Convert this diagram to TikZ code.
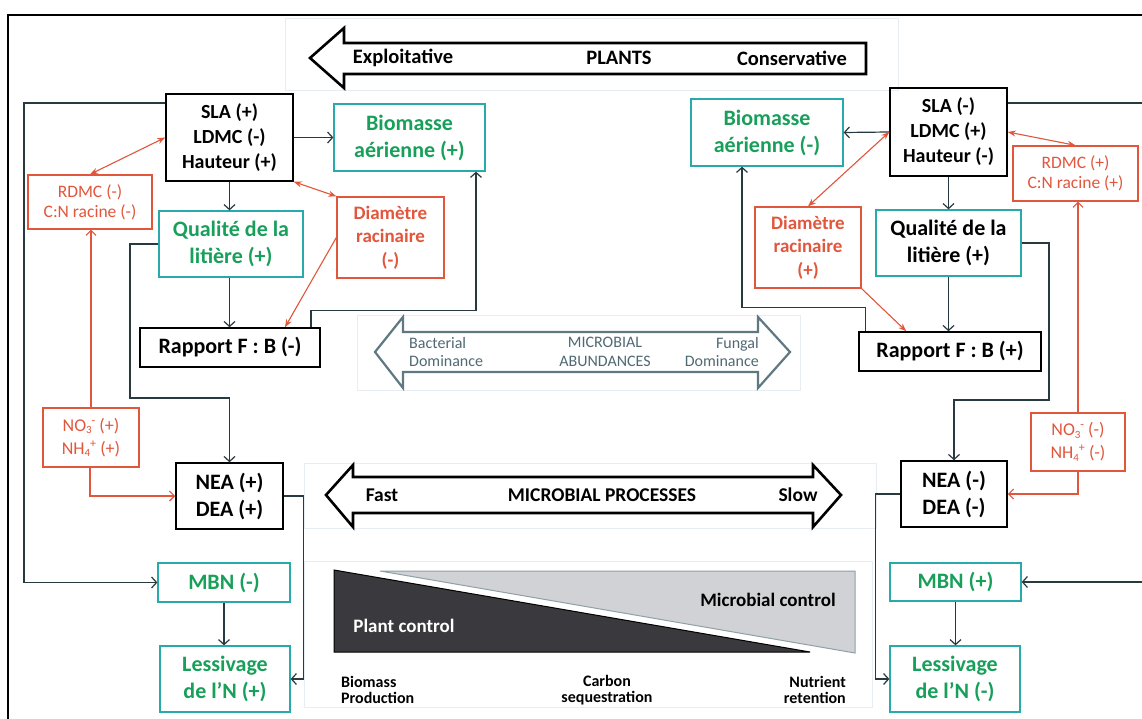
\documentclass[tikz,border=0pt]{standalone}
\usepackage{fontspec}
\setmainfont{Carlito}
\usetikzlibrary{arrows.meta,calc}
\definecolor{conn}{RGB}{40,58,64}
\definecolor{redc}{RGB}{226,86,60}
\definecolor{greenc}{RGB}{24,160,90}
\definecolor{tealc}{RGB}{40,170,170}
\definecolor{abund}{RGB}{95,120,130}
\definecolor{abundtxt}{RGB}{80,105,115}
\definecolor{darktri}{RGB}{58,58,62}
\definecolor{lighttri}{RGB}{208,210,213}
\definecolor{faint}{RGB}{232,237,242}
\newcommand\ionsub[2]{\raisebox{-0.3ex}{\fontsize{11}{11}\selectfont #1}\raisebox{0.8ex}{\fontsize{12}{12}\selectfont #2}}
\begin{document}
\begin{tikzpicture}[x=1pt,y=-1pt,
  every node/.style={inner sep=0pt, align=center},
  blackbox/.style={draw=black, line width=1.5pt, font=\fontsize{22}{27}\selectfont\bfseries},
  greenbox/.style={draw=tealc, line width=1.3pt, text=greenc, font=\fontsize{22}{27}\selectfont\bfseries},
  tealbox/.style={draw=tealc, line width=1.3pt, text=black, font=\fontsize{22}{27}\selectfont\bfseries},
  redbox/.style={draw=redc, line width=1.3pt, text=redc, font=\fontsize{17.5}{20}\selectfont},
  diambox/.style={draw=redc, line width=1.3pt, text=redc, font=\fontsize{19}{23.5}\selectfont\bfseries},
  nobox/.style={draw=redc, line width=1.3pt, text=redc, font=\fontsize{18}{23}\selectfont},
  conn/.style={draw=conn, line width=1.2pt, -{Straight Barb[length=5pt,width=11pt]}},
  redarr/.style={draw=redc, line width=1.1pt, -{Straight Barb[length=5pt,width=10pt]}},
  reddia/.style={draw=redc, line width=1.1pt, -{Stealth[length=8pt,width=6pt]}},
  reddbl/.style={draw=redc, line width=1.1pt, {Stealth[length=8pt,width=6pt]}-{Stealth[length=8pt,width=6pt]}},
  bigarrow/.style={draw=black, line width=2.6pt, fill=white, line join=miter},
  arrowtxt/.style={font=\fontsize{20.5}{22}\selectfont\bfseries},
  proctxt/.style={font=\fontsize{19.5}{22}\selectfont\bfseries},
  abtxt/.style={text=abundtxt, font=\fontsize{16}{18.5}\selectfont},
  labtxt/.style={font=\fontsize{16}{16.5}\selectfont\bfseries},
  faintbox/.style={draw=faint, line width=0.8pt}
]
\useasboundingbox (0,0) rectangle (1142,719);
\fill[white] (0,0) rectangle (1142,719);

% faint background panels
\draw[faintbox] (285,18) rectangle (898,90);
\draw[faintbox] (357,315) rectangle (800,390);
\draw[faintbox] (304,463) rectangle (876,528);
\draw[faintbox] (304,561) rectangle (872,707);

% frame
\draw[line width=2.6pt] (8,719) -- (8,15) -- (1142,15);

% PLANTS arrow
\draw[bigarrow] (310,58) -- (344,28) -- (344,43) -- (866,43) -- (866,74) -- (344,74) -- (344,88) -- cycle;
\node[arrowtxt] (expl) at (403,58) {Exploitative};
\node[arrowtxt] (plants) at (619,58) {PLANTS};
\node[arrowtxt] (cons) at (792,58) {Conservative};

% MICROBIAL ABUNDANCES arrow
\draw[draw=abund, line width=2.2pt, fill=white] (375,352) -- (403,317) -- (403,332) -- (758,332) -- (758,317) -- (790,352) -- (758,388) -- (758,372) -- (403,372) -- (403,388) -- cycle;
\node[abtxt, align=left, anchor=west] (bact) at (409,352) {Bacterial\\Dominance};
\node[abtxt] (abund) at (605,352) {MICROBIAL\\ABUNDANCES};
\node[abtxt, align=right, anchor=east] (fung) at (759,352) {Fungal\\Dominance};

% MICROBIAL PROCESSES arrow
\draw[bigarrow] (326,495) -- (353,465) -- (353,477) -- (813,477) -- (813,465) -- (841,495) -- (813,527) -- (813,513) -- (353,513) -- (353,527) -- cycle;
\node[proctxt] (fast) at (382,495) {Fast};
\node[proctxt] (mproc) at (602,495) {MICROBIAL PROCESSES};
\node[proctxt] (slow) at (798,495) {Slow};

% control triangles
\draw[draw=black, line width=1pt, fill=darktri] (334,570) -- (334,652) -- (810,652) -- cycle;
\draw[draw=abund!70, line width=1pt, fill=lighttri] (380,571) -- (855,571) -- (855,653) -- cycle;
\node[text=white, font=\fontsize{19}{22}\selectfont\bfseries] (pc) at (404,626) {Plant control};
\node[font=\fontsize{19}{22}\selectfont\bfseries] (mc) at (768,600) {Microbial control};
\node[labtxt, align=left, anchor=west] (bp) at (341,690) {Biomass\\Production};
\node[labtxt] (cs) at (607,690) {Carbon\\sequestration};
\node[labtxt, align=right, anchor=east] (nr) at (846,690) {Nutrient\\retention};

% ---------- LEFT SIDE ----------
\node[blackbox, minimum width=127, minimum height=87, font=\fontsize{20}{25}\selectfont\bfseries] (sla1) at (229.5,137.5) {SLA (+)\\LDMC (-)\\Hauteur (+)};
\node[greenbox, minimum width=151, minimum height=67] (bio1) at (409.5,137.5) {Biomasse\\aérienne (+)};
\node[redbox, minimum width=124, minimum height=54] (rdmc1) at (90,202) {RDMC (-)\\C:N racine (-)};
\node[greenbox, minimum width=144, minimum height=66] (qual1) at (231,244) {Qualité de la\\litière (+)};
\node[diambox, minimum width=107, minimum height=81] (diam1) at (390.5,237.5) {Diamètre\\racinaire\\(-)};
\node[blackbox, minimum width=180, minimum height=39] (rap1) at (230,347.5) {Rapport F : B (-)};
\node[nobox, minimum width=96, minimum height=59] (no31) at (91,437.5) {NO\ionsub{3}{-} (+)\\NH\ionsub{4}{+} (+)};
\node[blackbox, minimum width=107, minimum height=66] (nea1) at (229.5,496) {NEA (+)\\DEA (+)};
\node[greenbox, minimum width=132, minimum height=39] (mbn1) at (224,582.5) {MBN (-)};
\node[greenbox, minimum width=130, minimum height=66] (les1) at (225,679) {Lessivage\\de l’N (+)};

\draw[conn] (sla1.east) -- (bio1.west);
\draw[reddbl] (sla1.west) -- (rdmc1.north);
\draw[reddbl] (sla1.south east) -- (diam1.north west);
\draw[conn] (sla1.south) -- (sla1.south |- qual1.north);
\draw[conn] (qual1.south -| sla1.south) -- (sla1.south |- rap1.north);
\draw[reddia] (diam1.west) -- ([xshift=55pt]rap1.north);
\draw[conn] ([xshift=81pt]rap1.north) -- ++(0,-17) -| ([xshift=66.5pt]bio1.south);
\draw[conn] (qual1.west) -- (130,244) -- (130,398) -| (nea1.north);
\draw[redarr] (no31.north) -- (no31.north |- rdmc1.south);
\draw[redarr] ([xshift=-1pt]no31.south) |- (nea1.west);
\draw[conn] (nea1.east) -- ++(20,0) |- (les1.east);
\draw[conn] ([yshift=34.5pt]sla1.west) -- (24,103) |- (mbn1.west);
\draw[conn] (mbn1.south) -- (mbn1.south |- les1.north);

% ---------- RIGHT SIDE ----------
\node[greenbox, minimum width=152, minimum height=67] (bio2) at (767,132.5) {Biomasse\\aérienne (-)};
\node[blackbox, minimum width=117, minimum height=88, font=\fontsize{20}{25}\selectfont\bfseries] (sla2) at (948.5,132) {SLA (-)\\LDMC (+)\\Hauteur (-)};
\node[redbox, minimum width=125, minimum height=55] (rdmc2) at (1075.5,173.5) {RDMC (+)\\C:N racine (+)};
\node[diambox, minimum width=106, minimum height=81] (diam2) at (808,247.5) {Diamètre\\racinaire\\(+)};
\node[tealbox, minimum width=145, minimum height=66] (qual2) at (948.5,243) {Qualité de la\\litière (+)};
\node[blackbox, minimum width=182, minimum height=39] (rap2) at (950,351.5) {Rapport F : B (+)};
\node[nobox, minimum width=94, minimum height=58] (no32) at (1078,442) {NO\ionsub{3}{-} (-)\\NH\ionsub{4}{+} (-)};
\node[blackbox, minimum width=106, minimum height=66] (nea2) at (954,494) {NEA (-)\\DEA (-)};
\node[greenbox, minimum width=131, minimum height=38] (mbn2) at (955.5,582) {MBN (+)};
\node[greenbox, minimum width=130, minimum height=66] (les2) at (955,679) {Lessivage\\de l’N (-)};
\coordinate (edgeTop) at (1142,103);
\coordinate (edgeMbn) at (1142,582);

\draw[conn] (sla2.west) -- (bio2.east);
\draw[reddbl] (sla2.east) -- (rdmc2.north);
\draw[reddbl] (sla2.west) -- (diam2.north);
\draw[conn] (sla2.south) -- (sla2.south |- qual2.north);
\draw[conn] (qual2.south -| sla2.south) -- (sla2.south |- rap2.north);
\draw[reddia] (diam2.south east) -- ([xshift=48pt]rap2.north west);
\draw[conn] ([xshift=7pt]rap2.north west) -- ++(0,-24) -| ([xshift=-25pt]bio2.south);
\draw[conn] (qual2.east) -- (1049,243) -- (1049,400) -| (nea2.north);
\draw[redarr] (no32.north) -- (no32.north |- rdmc2.south);
\draw[redarr] (no32.south) |- (nea2.east);
\draw[conn] (nea2.west) -- ++(-25,0) |- (les2.west);
\draw[draw=conn, line width=1.2pt] ([yshift=29pt]sla2.east) -- (edgeTop);
\draw[conn] (edgeMbn) -- (mbn2.east);
\draw[conn] (mbn2.south) -- (mbn2.south |- les2.north);
\end{tikzpicture}
\end{document}
